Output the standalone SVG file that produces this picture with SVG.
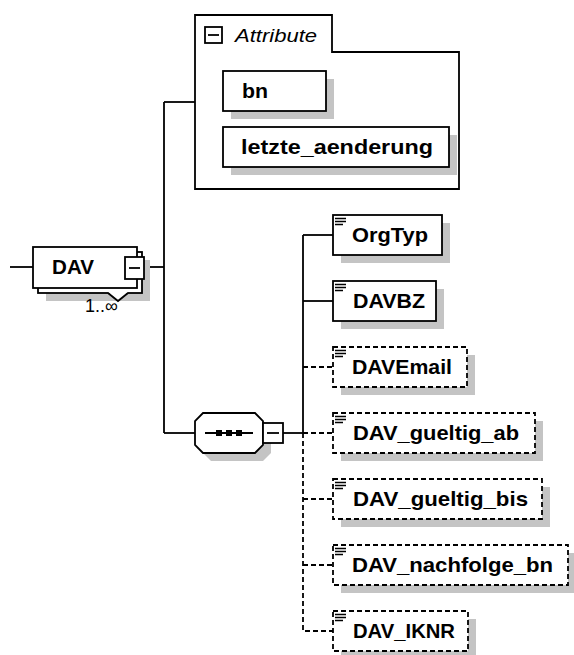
<svg xmlns="http://www.w3.org/2000/svg" width="574" height="655" viewBox="0 0 574 655">
<style>
.ln{fill:none;stroke:#000;stroke-width:1.8}
.dl{fill:none;stroke:#000;stroke-width:1.8;stroke-dasharray:5,3}
.bx{fill:#fff;stroke:#000;stroke-width:1.8}
.obx{fill:#fff;stroke:#000;stroke-width:1.8;stroke-dasharray:5,3}
.sh{fill:#c4c4c4}
.nm{font-family:"Liberation Sans",Arial,sans-serif;font-weight:bold;font-size:21px;fill:#000}
.it{font-family:"Liberation Sans",Arial,sans-serif;font-style:italic;font-size:19px;fill:#000}
.rp{font-family:"Liberation Sans",Arial,sans-serif;font-size:18px;fill:#000}
.ic{fill:none;stroke:#000;stroke-width:1.3}
</style>
<defs>
<g id="icon"><path class="ic" d="M2,3.5H13M2,6.5H13M2,9.5H10"/></g>
</defs>
<g id="connectors">
<path class="ln" d="M10,267H33"/>
<path class="ln" d="M144,267H164"/>
<path class="ln" d="M164,102V433"/>
<path class="ln" d="M164,102H195"/>
<path class="ln" d="M164,433H195"/>
<path class="ln" d="M283,433H303"/>
<path class="ln" d="M303,235V433"/>
<path class="dl" d="M303,433V631H333"/>
<path class="ln" d="M303,235H333"/>
<path class="ln" d="M303,301H333"/>
<path class="dl" d="M303,367H333"/>
<path class="dl" d="M303,433H333"/>
<path class="dl" d="M303,499H333"/>
<path class="dl" d="M303,565H333"/>
</g>
<g id="DAV">
<rect class="sh" x="46" y="260" width="104" height="41"/>
<rect class="bx" x="38" y="252" width="104" height="41"/>
<polygon points="108,292 118,301 128,292" fill="#fff"/>
<polyline class="ln" points="108,293 118,301 128,293"/>
<rect class="bx" x="33" y="247" width="104" height="41"/>
<text class="nm" x="52" y="274" textLength="42" lengthAdjust="spacingAndGlyphs">DAV</text>
<rect class="bx" x="125" y="257" width="19" height="22"/>
<path class="ln" d="M129,268H140"/>
<text class="rp" x="85" y="312">1..∞</text>
</g>
<g id="attributes">
<path class="bx" d="M195,189V15H332V52H459V189Z"/>
<rect class="bx" x="205" y="27" width="17" height="16"/>
<path class="ln" d="M208,35H219"/>
<text class="it" x="235" y="42" textLength="82" lengthAdjust="spacingAndGlyphs">Attribute</text>
</g>
<g id="attr_bn">
<rect class="sh" x="231" y="79" width="103" height="40"/>
<rect class="bx" x="223" y="71" width="103" height="40"/>
<text class="nm" x="242" y="98" textLength="26" lengthAdjust="spacingAndGlyphs">bn</text>
</g>
<g id="attr_letzte_aenderung">
<rect class="sh" x="231" y="135" width="226" height="40"/>
<rect class="bx" x="223" y="127" width="226" height="40"/>
<text class="nm" x="241" y="154" textLength="192" lengthAdjust="spacingAndGlyphs">letzte_aenderung</text>
</g>
<g id="sequence">
<polygon class="sh" points="211,421 263,421 271,429 271,453 263,461 211,461 203,453 203,429"/>
<polygon class="bx" points="203,413 255,413 263,421 263,445 255,453 203,453 195,445 195,421"/>
<path class="ln" d="M205,433H253"/>
<rect x="216" y="430" width="6" height="6" fill="#000"/>
<rect x="226" y="430" width="6" height="6" fill="#000"/>
<rect x="236" y="430" width="6" height="6" fill="#000"/>
<rect class="bx" x="263" y="423" width="20" height="20"/>
<path class="ln" d="M267,433H279"/>
</g>
<g id="OrgTyp">
<rect class="sh" x="341" y="223" width="109" height="40"/>
<rect class="bx" x="333" y="215" width="109" height="40"/>
<use href="#icon" x="333" y="215"/>
<text class="nm" x="352" y="242" textLength="76" lengthAdjust="spacingAndGlyphs">OrgTyp</text>
</g>
<g id="DAVBZ">
<rect class="sh" x="341" y="289" width="103" height="40"/>
<rect class="bx" x="333" y="281" width="103" height="40"/>
<use href="#icon" x="333" y="281"/>
<text class="nm" x="353" y="308" textLength="72" lengthAdjust="spacingAndGlyphs">DAVBZ</text>
</g>
<g id="DAVEmail">
<rect class="sh" x="341" y="355" width="134" height="40"/>
<rect class="obx" x="333" y="347" width="134" height="40"/>
<use href="#icon" x="333" y="347"/>
<text class="nm" x="352" y="374" textLength="100" lengthAdjust="spacingAndGlyphs">DAVEmail</text>
</g>
<g id="DAV_gueltig_ab">
<rect class="sh" x="341" y="421" width="202" height="40"/>
<rect class="obx" x="333" y="413" width="202" height="40"/>
<use href="#icon" x="333" y="413"/>
<text class="nm" x="353" y="440" textLength="166" lengthAdjust="spacingAndGlyphs">DAV_gueltig_ab</text>
</g>
<g id="DAV_gueltig_bis">
<rect class="sh" x="341" y="487" width="209" height="40"/>
<rect class="obx" x="333" y="479" width="209" height="40"/>
<use href="#icon" x="333" y="479"/>
<text class="nm" x="353" y="506" textLength="175" lengthAdjust="spacingAndGlyphs">DAV_gueltig_bis</text>
</g>
<g id="DAV_nachfolge_bn">
<rect class="sh" x="341" y="553" width="235" height="40"/>
<rect class="obx" x="333" y="545" width="235" height="40"/>
<use href="#icon" x="333" y="545"/>
<text class="nm" x="352" y="572" textLength="201" lengthAdjust="spacingAndGlyphs">DAV_nachfolge_bn</text>
</g>
<g id="DAV_IKNR">
<rect class="sh" x="341" y="619" width="135" height="40"/>
<rect class="obx" x="333" y="611" width="135" height="40"/>
<use href="#icon" x="333" y="611"/>
<text class="nm" x="353" y="638" textLength="102" lengthAdjust="spacingAndGlyphs">DAV_IKNR</text>
</g>
</svg>
